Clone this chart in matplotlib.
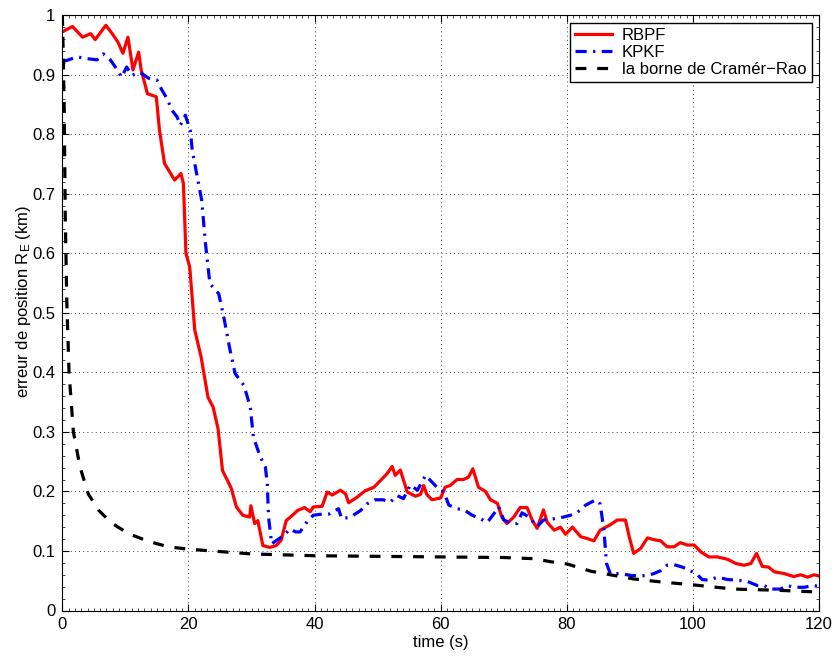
import numpy as np
import matplotlib
matplotlib.use("Agg")
import matplotlib.pyplot as plt
from matplotlib.ticker import MultipleLocator, FormatStrFormatter

plt.rcParams["font.family"] = ["Liberation Sans", "DejaVu Sans"]
plt.rcParams["mathtext.default"] = "regular"

# ---- data ----
rbpf_t = [0, 1.6, 3.2, 4.5, 5.2, 6.9, 7.9, 8.8, 9.6, 10.4,
          11.2, 12.1, 12.5, 13.5, 14.9, 15.4, 16.2, 17.8, 18.8, 19.2,
          19.6, 20.2, 21.0, 22.0, 23.1, 23.9, 24.7, 25.4, 26.2, 26.8,
          27.6, 28.6, 29.7, 29.9, 30.5, 31.0, 31.8, 32.9, 33.9, 34.7,
          35.5, 36.5, 37.3, 38.4, 39.3, 39.8, 41.2, 42.0, 42.8, 44.1,
          44.9, 45.4, 46.7, 48.0, 49.4, 50.7, 51.5, 52.3, 52.8, 53.6,
          54.7, 56.0, 56.8, 57.3, 57.8, 58.6, 60.0, 60.7, 61.5, 62.6,
          63.6, 64.4, 65.1, 66.0, 67.1, 67.9, 69.0, 69.7, 70.5, 71.6,
          72.6, 73.7, 74.5, 75.3, 76.3, 76.9, 78.0, 79.0, 79.8, 80.9,
          82.2, 83.2, 84.3, 85.3, 86.9, 88.0, 89.3, 89.9, 90.6, 91.7,
          92.8, 93.8, 94.9, 95.9, 97.0, 98.0, 99.1, 100.2, 101.2, 102.5,
          103.9, 105.5, 106.8, 108.1, 109.2, 110.1, 111.0, 112.0, 112.9, 114.5,
          116.0, 117.1, 118.2, 119.2, 120]
rbpf_err = [0.972, 0.981, 0.963, 0.969, 0.959, 0.983, 0.969, 0.955, 0.936, 0.963,
            0.908, 0.938, 0.908, 0.868, 0.863, 0.807, 0.751, 0.723, 0.734, 0.717,
            0.600, 0.577, 0.471, 0.426, 0.358, 0.342, 0.305, 0.235, 0.218, 0.205,
            0.174, 0.160, 0.157, 0.176, 0.146, 0.151, 0.109, 0.106, 0.109, 0.118,
            0.151, 0.160, 0.168, 0.173, 0.166, 0.174, 0.175, 0.199, 0.194, 0.202,
            0.196, 0.181, 0.190, 0.201, 0.207, 0.221, 0.230, 0.242, 0.227, 0.236,
            0.199, 0.192, 0.195, 0.210, 0.195, 0.186, 0.189, 0.207, 0.210, 0.220,
            0.220, 0.224, 0.238, 0.207, 0.200, 0.186, 0.180, 0.157, 0.146, 0.157,
            0.173, 0.173, 0.152, 0.138, 0.169, 0.148, 0.135, 0.140, 0.128, 0.140,
            0.124, 0.121, 0.117, 0.135, 0.144, 0.152, 0.152, 0.124, 0.096, 0.104,
            0.122, 0.119, 0.117, 0.107, 0.107, 0.114, 0.110, 0.110, 0.099, 0.090,
            0.090, 0.086, 0.079, 0.076, 0.079, 0.096, 0.074, 0.073, 0.065, 0.062,
            0.057, 0.060, 0.056, 0.060, 0.058]

kpkf_t = [0, 1.0, 2.3, 3.9, 5.5, 6.5, 7.6, 8.4, 9.4, 10.2,
          11.0, 12.3, 13.7, 15.0, 15.8, 16.6, 17.4, 18.2, 18.7, 19.5,
          20.3, 20.6, 21.4, 22.1, 22.7, 23.4, 24.8, 25.6, 26.6, 27.4,
          28.8, 29.8, 30.3, 31.4, 32.2, 32.5, 32.7, 33.2, 34.0, 35.1,
          36.1, 37.0, 37.7, 38.8, 39.8, 41.2, 42.3, 43.8, 44.3, 45.7,
          47.3, 48.3, 49.6, 50.9, 52.0, 53.1, 54.1, 55.2, 56.3, 57.6,
          58.6, 59.4, 60.5, 61.3, 62.6, 63.7, 65.0, 66.3, 67.4, 68.4,
          69.2, 70.0, 71.1, 72.1, 72.9, 74.0, 75.3, 76.3, 77.9, 79.5,
          80.6, 81.7, 83.0, 84.6, 85.3, 85.9, 86.3, 86.9, 88.5, 90.1,
          91.7, 92.8, 93.8, 94.9, 95.9, 97.0, 98.3, 99.4, 100.7, 101.5,
          102.5, 103.9, 105.5, 107.0, 108.6, 110.2, 111.3, 112.3, 113.9, 115.0,
          116.0, 117.6, 119.2, 120]
kpkf_err = [0.922, 0.925, 0.930, 0.927, 0.925, 0.935, 0.925, 0.913, 0.896, 0.913,
            0.899, 0.904, 0.894, 0.891, 0.874, 0.860, 0.840, 0.829, 0.815, 0.832,
            0.806, 0.773, 0.728, 0.689, 0.616, 0.549, 0.532, 0.493, 0.437, 0.398,
            0.378, 0.342, 0.291, 0.258, 0.241, 0.213, 0.157, 0.112, 0.118, 0.126,
            0.137, 0.132, 0.132, 0.149, 0.160, 0.162, 0.162, 0.171, 0.154, 0.157,
            0.168, 0.179, 0.186, 0.186, 0.182, 0.193, 0.188, 0.211, 0.202, 0.227,
            0.216, 0.207, 0.199, 0.177, 0.171, 0.169, 0.160, 0.154, 0.148, 0.162,
            0.174, 0.152, 0.147, 0.146, 0.164, 0.157, 0.141, 0.152, 0.154, 0.157,
            0.160, 0.165, 0.177, 0.186, 0.179, 0.134, 0.079, 0.062, 0.062, 0.059,
            0.058, 0.059, 0.062, 0.067, 0.076, 0.077, 0.073, 0.068, 0.060, 0.052,
            0.051, 0.056, 0.052, 0.051, 0.049, 0.042, 0.042, 0.036, 0.036, 0.042,
            0.039, 0.039, 0.042, 0.040]

crb_t = [0, 0.15, 0.3, 0.45, 0.7, 1.06, 1.75, 2.8, 4.1, 5.7,
         7.8, 10.5, 13.7, 16.8, 20, 25, 30, 40, 50, 60,
         70, 74.8, 77.4, 80.1, 83.8, 86.9, 90.6, 94.9, 100.1, 106.5,
         113.4, 120]
crb_err = [1.0, 0.93, 0.84, 0.67, 0.52, 0.40, 0.30, 0.241, 0.196, 0.169,
           0.147, 0.129, 0.116, 0.107, 0.103, 0.099, 0.095, 0.092, 0.091, 0.090,
           0.089, 0.087, 0.082, 0.078, 0.066, 0.060, 0.053, 0.048, 0.043, 0.036,
           0.034, 0.031]

LABELS = ["RBPF", "KPKF", "la borne de Cramér\u2212Rao"]

FS = 12

fig = plt.figure(figsize=(8.37, 6.6), dpi=100)
ax = fig.add_axes([0.0745, 0.075, 0.9040, 0.902])

ax.plot(rbpf_t, rbpf_err, color="red", lw=2.3, label=LABELS[0])
ax.plot(kpkf_t, kpkf_err, color="blue", lw=2.3, linestyle=(0, (3.5, 2.0, 0.7, 2.0)),
        label=LABELS[1])
ax.plot(crb_t, crb_err, color="black", lw=2.3, linestyle=(0, (3.4, 3.4)), label=LABELS[2])

ax.set_xlim(0, 120)
ax.set_ylim(0, 1)
ax.xaxis.set_major_locator(MultipleLocator(20))
ax.yaxis.set_major_locator(MultipleLocator(0.1))
ax.xaxis.set_minor_locator(MultipleLocator(1))
ax.yaxis.set_minor_locator(MultipleLocator(0.02))
ax.yaxis.set_major_formatter(FormatStrFormatter("%g"))
ax.tick_params(which="both", direction="in", top=True, right=True, labelsize=FS)
ax.tick_params(which="major", length=5, width=0.8)
ax.tick_params(which="minor", length=2, width=0.5)
ax.tick_params(axis="x", pad=5)
ax.tick_params(axis="y", pad=5)
ax.grid(True, which="major", linestyle=(0, (1, 4)), color="black", lw=0.6)
for s in ax.spines.values():
    s.set_linewidth(0.8)

ax.set_xlabel("time (s)", fontsize=FS, labelpad=2)
ax.set_ylabel(r"erreur de position R$_E$ (km)", fontsize=FS, va="center")
ax.yaxis.set_label_coords(-0.052, 0.52)

leg = ax.legend(loc="upper right", fontsize=FS, fancybox=False, framealpha=1,
                edgecolor="black", borderaxespad=0.45, handlelength=2.2,
                handletextpad=0.6, borderpad=0.3, labelspacing=0.12)
leg.get_frame().set_linewidth(1.0)

fig.savefig("out.png", dpi=100)
